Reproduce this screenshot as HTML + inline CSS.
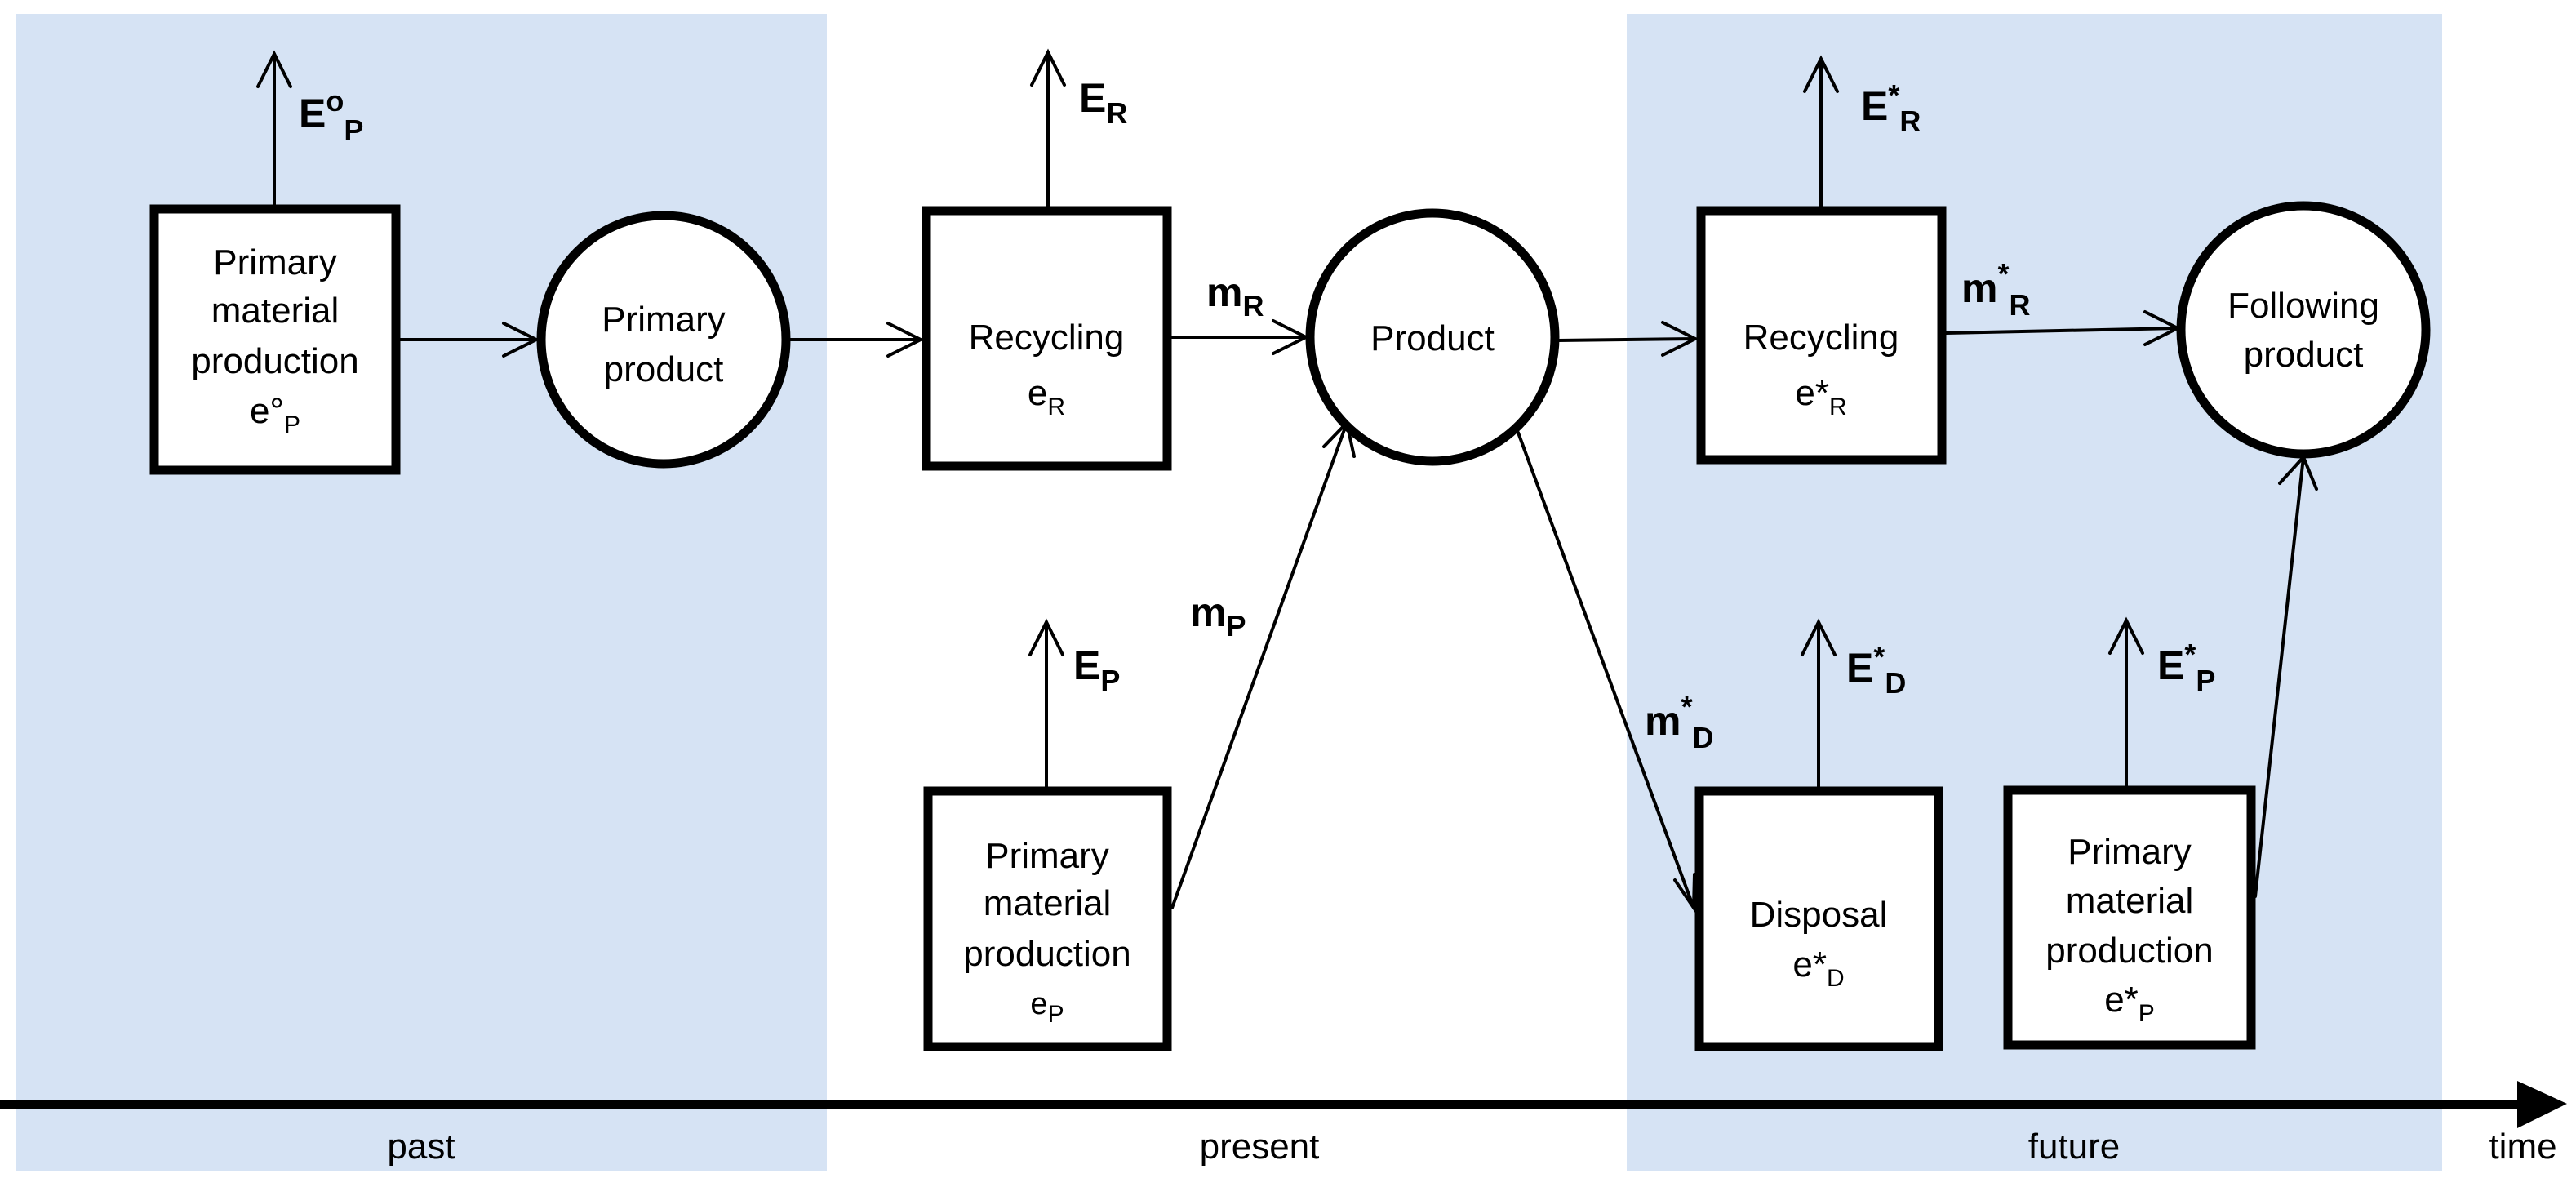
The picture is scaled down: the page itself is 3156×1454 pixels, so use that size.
<!DOCTYPE html>
<html><head><meta charset="utf-8"><style>
html,body{margin:0;padding:0;background:#fff}
svg{display:block}
text{font-family:"Liberation Sans",sans-serif;fill:#000}
.n{font-size:44px;text-anchor:middle}
.b{font-size:50px;font-weight:bold}
.s{font-size:30px}
.bs{font-size:36px;font-weight:bold}
</style></head><body>
<svg width="3156" height="1454" viewBox="0 0 3156 1454" xmlns="http://www.w3.org/2000/svg">
<rect x="20" y="17" width="993" height="1418" fill="#d6e3f4"/>
<rect x="1993" y="17" width="999" height="1418" fill="#d6e3f4"/>
<g fill="#fff" stroke="#000" stroke-width="11">
<rect x="189" y="256" width="296" height="320"/>
<rect x="1135" y="258" width="295" height="313"/>
<rect x="2084" y="258" width="295" height="305"/>
<rect x="1137" y="969" width="293" height="313"/>
<rect x="2082" y="969" width="293" height="313"/>
<rect x="2460" y="968" width="298" height="312"/>
<ellipse cx="813" cy="416" rx="150" ry="152"/>
<ellipse cx="1755" cy="413" rx="150" ry="152"/>
<ellipse cx="2822" cy="404" rx="150" ry="152"/>
</g>
<g stroke="#000" stroke-width="4" fill="none" stroke-linecap="round">
<path d="M336 251V66M316 106L336 66L356 106"/>
<path d="M1284 253V64M1264 104L1284 64L1304 104"/>
<path d="M2231 253V72M2211 112L2231 72L2251 112"/>
<path d="M1282 964V762M1262 802L1282 762L1302 802"/>
<path d="M2228 964V762M2208 802L2228 762L2248 802"/>
<path d="M2605 963V760M2585 800L2605 760L2625 800"/>
<path d="M490 416H657M617 396L657 416L617 436"/>
<path d="M965 416H1128M1088 396L1128 416L1088 436"/>
<path d="M1436 413H1600M1560 393L1600 413L1560 433"/>
<path d="M1908 417L2077 415M2037 395L2077 415L2037 435"/>
<path d="M2384 408L2668 402M2628 382L2668 402L2628 422"/>
<path d="M1436 1112L1650 518M1622 547L1650 518L1659 559"/>
<path d="M1860 530L2075 1112M2052 1078L2075 1112L2076 1071"/>
<path d="M2763 1098L2822 560M2793 592L2822 560L2838 599"/>
</g>
<rect x="0" y="1347" width="3090" height="11" fill="#000"/>
<polygon points="3084,1324 3145,1352 3084,1382" fill="#000"/>
<g class="n">
<text x="337" y="336">Primary</text><text x="337" y="395">material</text><text x="337" y="457">production</text>
<text x="337" y="518">e°<tspan class="s" dy="12">P</tspan></text>
<text x="813" y="406">Primary</text><text x="813" y="467">product</text>
<text x="1282" y="428">Recycling</text>
<text x="1282" y="496">e<tspan class="s" dy="12">R</tspan></text>
<text x="1755" y="429">Product</text>
<text x="2231" y="428">Recycling</text>
<text x="2231" y="496">e*<tspan class="s" dy="12">R</tspan></text>
<text x="2822" y="389">Following</text><text x="2822" y="449">product</text>
<text x="1283" y="1063">Primary</text><text x="1283" y="1121">material</text><text x="1283" y="1183">production</text>
<text x="1283" y="1242" style="font-size:38px">e<tspan class="s" dy="10">P</tspan></text>
<text x="2228" y="1135">Disposal</text>
<text x="2228" y="1196">e*<tspan class="s" dy="12">D</tspan></text>
<text x="2609" y="1058">Primary</text><text x="2609" y="1118">material</text><text x="2609" y="1179">production</text>
<text x="2609" y="1239">e*<tspan class="s" dy="12">P</tspan></text>
<text x="516" y="1419">past</text>
<text x="1543" y="1419">present</text>
<text x="2541" y="1419">future</text>
<text x="3091" y="1419">time</text>
</g>
<g class="b">
<text x="366" y="156">E<tspan class="bs" dy="-20">o</tspan><tspan class="bs" dy="36">P</tspan></text>
<text x="1322" y="137">E<tspan class="bs" dy="14">R</tspan></text>
<text x="2280" y="147">E<tspan class="bs" dy="-18">*</tspan><tspan class="bs" dy="32">R</tspan></text>
<text x="1478" y="375">m<tspan class="bs" dy="12">R</tspan></text>
<text x="2403" y="370">m<tspan class="bs" dy="-22">*</tspan><tspan class="bs" dy="38">R</tspan></text>
<text x="1458" y="767">m<tspan class="bs" dy="12">P</tspan></text>
<text x="1315" y="832">E<tspan class="bs" dy="14">P</tspan></text>
<text x="2015" y="900">m<tspan class="bs" dy="-22">*</tspan><tspan class="bs" dy="38">D</tspan></text>
<text x="2262" y="835">E<tspan class="bs" dy="-18">*</tspan><tspan class="bs" dy="32">D</tspan></text>
<text x="2643" y="832">E<tspan class="bs" dy="-18">*</tspan><tspan class="bs" dy="32">P</tspan></text>
</g>
</svg>
</body></html>
